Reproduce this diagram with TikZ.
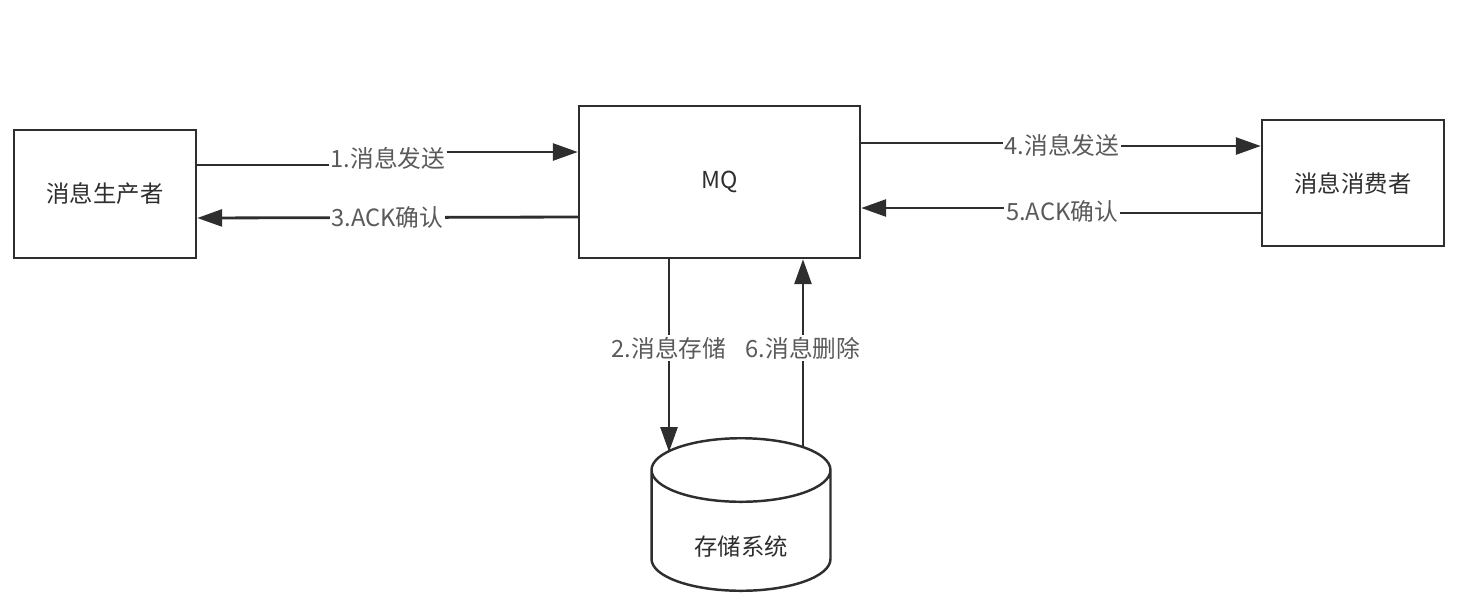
\documentclass[tikz,border=0pt]{standalone}
\usepackage{fontspec}
\setmainfont{Noto Sans CJK SC}
\usetikzlibrary{positioning, shapes.geometric, arrows.meta, calc}
\definecolor{linegray}{HTML}{2E2E2E}
\definecolor{labelgray}{HTML}{5A5A5A}
\tikzset{
	boxnode/.style={
			shape=rectangle,
			draw=linegray,
			line width=1.4pt,
			text=linegray,
			font=\fontsize{13.3}{16}\selectfont,
			inner sep=0pt
		},
	storenode/.style={
			boxnode,
			cylinder,
			shape border rotate=90,
			aspect=0.68,
			minimum width=3.58cm,
			minimum height=3cm,
			text height=1.05cm,
			text depth=0.07cm
		},
	flow/.style={
			draw=linegray,
			line width=1.6pt,
			-{Triangle[length=5mm, width=3.4mm]}
		},
	flowlabel/.style={
			fill=white,
			inner sep=1pt,
			text=labelgray,
			font=\fontsize{13.5}{16}\selectfont
		}
}

\begin{document}
\begin{tikzpicture}[x=0.02cm, y=-0.02cm]
				\useasboundingbox (0,0) rectangle (1464,600);

				\node[boxnode, minimum width=3.64cm, minimum height=2.56cm] (prod) at (105,194) {消息生产者};
				\node[boxnode, minimum width=5.62cm, minimum height=3.04cm] (mq) at (719.5,182) {MQ};
				\node[boxnode, minimum width=3.64cm, minimum height=2.52cm] (cons) at (1353,183) {消息消费者};
				\node[storenode] (store) at (741,531) {存储系统};

				\coordinate (k1) at (388,158);
				\coordinate (k4) at (1062,145);
				\coordinate (k5) at (1062,211);
				\coordinate (a2) at ([xshift=-1.01cm]mq.south);
				\coordinate (a6) at ([xshift=1.67cm]mq.south);

				\draw[flow] ([yshift=0.58cm]prod.east) -| (k1) |- ([yshift=0.6cm]mq.west);
				\node[flowlabel] (l1) at (k1) {1.消息发送};
				\draw[flow] ([yshift=-0.7cm]mq.west) -- node[flowlabel] (l3) {3.ACK确认} ([yshift=-0.48cm]prod.east);

				\draw[flow] ([yshift=0.78cm]mq.east) -| (k4) |- ([yshift=0.74cm]cons.west);
				\node[flowlabel] (l4) at (k4) {4.消息发送};
				\draw[flow] ([yshift=-0.6cm]cons.west) -| (k5) |- ([yshift=-0.52cm]mq.east);
				\node[flowlabel] (l5) at (k5) {5.ACK确认};

				\draw[flow, shorten >=-0.3cm] (a2) -- node[flowlabel] (l2) {2.消息存储} (a2 |- store.north);
				\draw[flow, shorten <=-0.2cm] (a6 |- store.north) -- node[flowlabel] (l6) {6.消息删除} (a6);

			\end{tikzpicture}
\end{document}
